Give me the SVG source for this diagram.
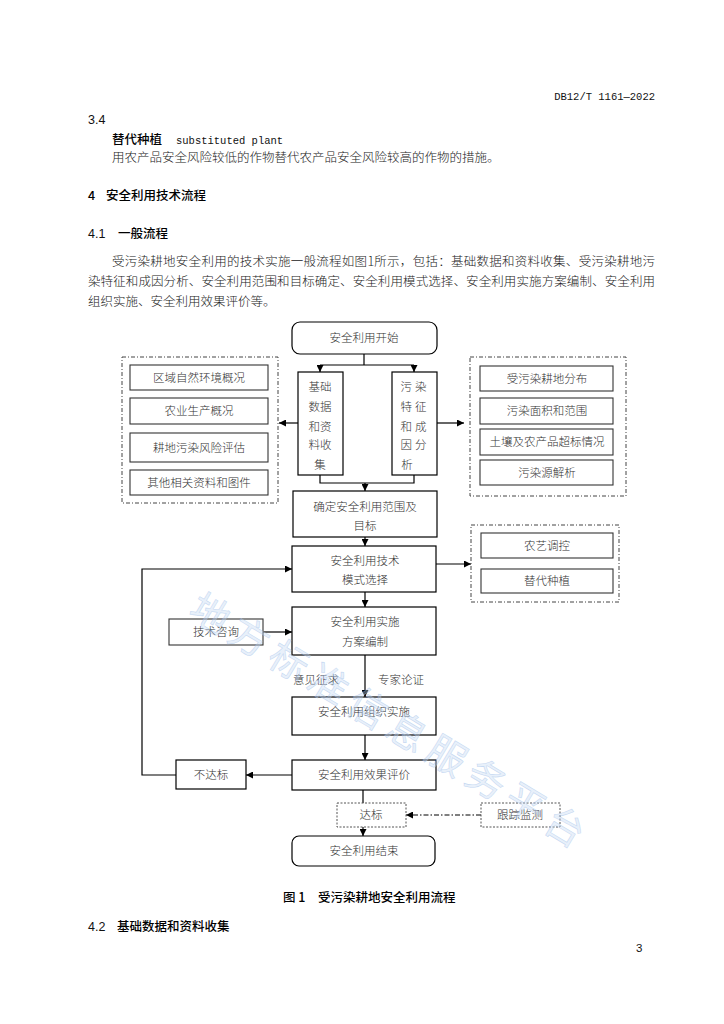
<svg xmlns="http://www.w3.org/2000/svg" width="724" height="1024" viewBox="0 0 724 1024">
<style>
.pg{font-family:"Noto Sans CJK SC","Noto Sans",sans-serif;font-size:12.5px;fill:#222;font-weight:300}
.hd{font-family:"Noto Sans CJK SC","Noto Sans",sans-serif;font-size:12.5px;fill:#000;font-weight:500}
.cap{font-family:"Noto Sans CJK SC","Noto Sans",sans-serif;font-size:12.5px;fill:#000;font-weight:500}
.mono{font-family:"Liberation Mono","DejaVu Sans Mono",monospace;font-size:10.5px;fill:#111}
.sn{font-family:"Liberation Sans","DejaVu Sans",sans-serif;font-size:12.5px;fill:#111}
.num{font-family:"Liberation Sans","DejaVu Sans",sans-serif;font-size:11.5px;fill:#111}
.t{font-family:"Noto Sans CJK SC",sans-serif;font-size:11.5px;fill:#333;text-anchor:middle;font-weight:300}
.b{fill:#fff;stroke:#000;stroke-width:1.2}
.ib{fill:#fff;stroke:#333;stroke-width:1.1}
.dg{fill:none;stroke:#444;stroke-width:1;stroke-dasharray:4 2 1 2}
.db{fill:#fff;stroke:#555;stroke-width:1;stroke-dasharray:2 1.5}
.c{fill:none;stroke:#000;stroke-width:1.2}
.a{marker-end:url(#ah)}
.wm{font-family:"Noto Sans CJK SC",sans-serif;font-size:39px;fill:#c4d8f4;fill-opacity:0.4;stroke:#9dbde8;stroke-opacity:0.5;stroke-width:0.6;letter-spacing:7px}
</style>
<defs>
<marker id="ah" viewBox="0 0 8 8" markerWidth="7" markerHeight="7" refX="8" refY="4" orient="auto" markerUnits="userSpaceOnUse">
<path d="M0,0 L8,4 L0,8 z" fill="#000"/>
</marker>
</defs>
<rect width="724" height="1024" fill="#fff"/>

<g id="page-text">
<text class="mono" x="655" y="100" text-anchor="end" font-size="11px">DB12/T 1161—2022</text>
<text class="sn" x="88" y="124">3.4</text>
<text class="hd" x="112" y="144">替代种植</text>
<text class="mono" x="176" y="144">substituted plant</text>
<text class="pg" x="112" y="162">用农产品安全风险较低的作物替代农产品安全风险较高的作物的措施。</text>
<text class="hd" x="88" y="200">4</text>
<text class="hd" x="106" y="200">安全利用技术流程</text>
<text class="sn" x="88" y="238">4.1</text>
<text class="hd" x="118" y="238">一般流程</text>
<text class="pg" x="112" y="266" textLength="543" lengthAdjust="spacing">受污染耕地安全利用的技术实施一般流程如图1所示，包括：基础数据和资料收集、受污染耕地污</text>
<text class="pg" x="88" y="286" textLength="567" lengthAdjust="spacing">染特征和成因分析、安全利用范围和目标确定、安全利用模式选择、安全利用实施方案编制、安全利用</text>
<text class="pg" x="88" y="306">组织实施、安全利用效果评价等。</text>
<text class="cap" x="283" y="902">图 1</text>
<text class="cap" x="318" y="902">受污染耕地安全利用流程</text>
<text class="sn" x="88" y="931">4.2</text>
<text class="hd" x="117" y="931">基础数据和资料收集</text>
<text class="num" x="636" y="952" font-size="10">3</text>
</g>

<g id="connectors">
<path class="c" d="M364,354 V365 M320,365 H414"/>
<path class="c a" d="M320,365 V372"/>
<path class="c a" d="M414,365 V372"/>
<path class="c a" d="M298,423 H279"/>
<path class="c a" d="M437,423 H464"/>
<path class="c" d="M320,475 V483 H414 V475"/>
<path class="c a" d="M365,483 V491"/>
<path class="c a" d="M365,537 V546"/>
<path class="c a" d="M436,564 H471"/>
<path class="c a" d="M365,592 V607"/>
<path class="c a" d="M263,632 H292"/>
<path class="c a" d="M365,655 V697"/>
<path class="c a" d="M365,735 V760"/>
<path class="c a" d="M292,775 H246"/>
<path class="c a" d="M176,775 H142 V569 H292"/>
<path class="c" d="M363,790 V803"/>
<path class="c a" d="M363,827 V836"/>
<path class="c a" d="M481,815 H406" stroke-dasharray="5 2 1.5 2"/>
</g>

<g id="n-start">
<rect class="b" x="292" y="322" width="145" height="32" rx="8"/>
<text class="t" x="364" y="342">安全利用开始</text>
</g>

<g id="n-basic">
<rect class="b" x="298" y="372" width="45" height="103"/>
<text class="t" x="320" y="391">基础</text>
<text class="t" x="320" y="411">数据</text>
<text class="t" x="320" y="431">和资</text>
<text class="t" x="320" y="449">料收</text>
<text class="t" x="320" y="469">集</text>
</g>

<g id="n-pollution">
<rect class="b" x="392" y="372" width="45" height="103"/>
<text class="t" x="415" y="391" letter-spacing="3">污染</text>
<text class="t" x="415" y="411" letter-spacing="3">特征</text>
<text class="t" x="415" y="431" letter-spacing="3">和成</text>
<text class="t" x="415" y="449" letter-spacing="3">因分</text>
<text class="t" x="407" y="469">析</text>
</g>

<g id="g-left">
<rect class="dg" x="122" y="357" width="156" height="146"/>
<rect class="ib" x="130" y="365" width="138" height="25"/>
<text class="t" x="199" y="382">区域自然环境概况</text>
<rect class="ib" x="130" y="398" width="138" height="26"/>
<text class="t" x="199" y="415">农业生产概况</text>
<rect class="ib" x="130" y="433" width="138" height="29"/>
<text class="t" x="199" y="452">耕地污染风险评估</text>
<rect class="ib" x="130" y="470" width="138" height="25"/>
<text class="t" x="199" y="487">其他相关资料和图件</text>
</g>

<g id="g-right1">
<rect class="dg" x="470" y="357" width="156" height="139"/>
<rect class="ib" x="480" y="366" width="133" height="25"/>
<text class="t" x="547" y="383">受污染耕地分布</text>
<rect class="ib" x="480" y="398" width="133" height="26"/>
<text class="t" x="547" y="415">污染面积和范围</text>
<rect class="ib" x="480" y="429" width="133" height="26"/>
<text class="t" x="547" y="446" font-size="10.5">土壤及农产品超标情况</text>
<rect class="ib" x="480" y="460" width="133" height="25"/>
<text class="t" x="547" y="477">污染源解析</text>
</g>

<g id="n-scope">
<rect class="b" x="293" y="491" width="144" height="46"/>
<text class="t" x="365" y="511">确定安全利用范围及</text>
<text class="t" x="365" y="530">目标</text>
</g>

<g id="n-mode">
<rect class="b" x="292" y="546" width="144" height="46"/>
<text class="t" x="365" y="565">安全利用技术</text>
<text class="t" x="365" y="584">模式选择</text>
</g>

<g id="g-right2">
<rect class="dg" x="471" y="525" width="148" height="77"/>
<rect class="ib" x="481" y="533" width="132" height="25"/>
<text class="t" x="547" y="550">农艺调控</text>
<rect class="ib" x="481" y="569" width="132" height="24"/>
<text class="t" x="547" y="585">替代种植</text>
</g>

<g id="n-plan">
<rect class="b" x="292" y="607" width="144" height="48"/>
<text class="t" x="365" y="626">安全利用实施</text>
<text class="t" x="365" y="646">方案编制</text>
</g>

<g id="n-consult">
<rect class="ib" x="169" y="619" width="94" height="26"/>
<text class="t" x="216" y="636">技术咨询</text>
</g>

<g id="labels">
<text class="t" x="316" y="684">意见征求</text>
<text class="t" x="401" y="684">专家论证</text>
</g>

<g id="n-implement">
<rect class="b" x="292" y="697" width="144" height="38"/>
<text class="t" x="364" y="716">安全利用组织实施</text>
</g>

<g id="n-evaluate">
<rect class="b" x="292" y="760" width="144" height="30"/>
<text class="t" x="364" y="779">安全利用效果评价</text>
</g>

<g id="n-fail">
<rect class="b" x="176" y="760" width="70" height="29"/>
<text class="t" x="211" y="779">不达标</text>
</g>

<g id="n-pass">
<rect class="db" x="337" y="803" width="69" height="24"/>
<text class="t" x="371" y="819">达标</text>
</g>

<g id="n-monitor">
<rect class="db" x="481" y="803" width="79" height="24"/>
<text class="t" x="520" y="819">跟踪监测</text>
</g>

<g id="n-end">
<rect class="b" x="292" y="836" width="143" height="30" rx="7"/>
<text class="t" x="364" y="855">安全利用结束</text>
</g>

<g id="watermark">
<text class="wm" x="390" y="736" text-anchor="middle" transform="rotate(31 390 723)">地方标准信息服务平台</text>
</g>
</svg>
